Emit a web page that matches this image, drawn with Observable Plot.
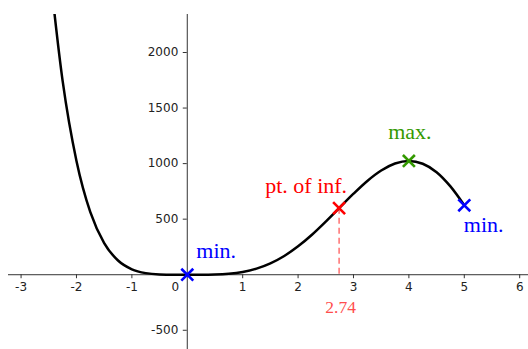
<!DOCTYPE html>
<html>
<head>
<meta charset="utf-8">
<script src="https://cdn.jsdelivr.net/npm/d3@7"></script>
<script src="https://cdn.jsdelivr.net/npm/@observablehq/plot@0.6"></script>
<style>
  html, body { margin: 0; padding: 0; background: #fff; }
  #chart svg { display: block; }
</style>
</head>
<body>
<div id="chart"></div>
<script>
// Sampled points of the curve
const curveX = [-2.5, -2.25, -2, -1.75, -1.5, -1.25, -1, -0.75, -0.5, -0.25, 0,
                0.25, 0.5, 0.75, 1, 1.25, 1.5, 1.75, 2, 2.25, 2.5, 2.75, 3,
                3.25, 3.5, 3.75, 4, 4.25, 4.5, 4.75, 5];
const curveY = [2822, 1744, 1024, 563, 285, 128, 49, 14.4, 2.6, 0.15, 0,
                0.13, 1.9, 8.7, 25, 55, 102.5, 169, 256, 360, 478.5, 604, 729,
                844, 938, 1001, 1024, 999, 923, 795, 625];

// Special points
const pointX = [0, 2.74, 4, 5];
const pointY = [0, 599, 1024, 625];
const pointLabel = ["min.", "pt. of inf.", "max.", "min."];

// Axis ticks
const xTicks = [-3, -2, -1, 1, 2, 3, 4, 5, 6];
const yTicks = [-500, 500, 1000, 1500, 2000];
const inflectionLabel = "2.74";

const serif = "'Liberation Serif', 'Times New Roman', serif";
const sans = "'DejaVu Sans', sans-serif";
const axisColor = "#333";

const points = pointX.map((x, i) => ({x, y: pointY[i], label: pointLabel[i]}));
const pointStyle = [
  {color: "#0000ff", dx: 9, dy: -17, anchor: "start"},
  {color: "#ff0000", dx: 8, dy: -15, anchor: "end"},
  {color: "#339900", dx: 1, dy: -21.5, anchor: "middle"},
  {color: "#0000ff", dx: -0.5, dy: 27, anchor: "start"}
];

const marks = [
  // axis lines through the origin
  Plot.ruleY([0], {stroke: axisColor, strokeWidth: 1}),
  Plot.ruleX([0], {stroke: axisColor, strokeWidth: 1}),
  // tick marks
  Plot.ruleX(xTicks, {x: d => d, y1: 0, y2: 0, insetBottom: -4, stroke: axisColor}),
  Plot.ruleY(yTicks, {y: d => d, x1: 0, x2: 0, insetLeft: -4, stroke: axisColor}),
  // tick labels
  Plot.text(xTicks, {x: d => d, y: 0, text: d => String(d), dy: 12,
    fontFamily: sans, fontSize: 12, fill: "#222"}),
  Plot.text([0], {x: 0, y: 0, text: d => String(d), dx: -12, dy: 12,
    fontFamily: sans, fontSize: 12, fill: "#222"}),
  Plot.text(yTicks, {x: 0, y: d => d, text: d => String(d), dx: -9, textAnchor: "end",
    fontFamily: sans, fontSize: 12, fill: "#222"}),
  // dashed drop line from the point of inflection
  Plot.ruleX([points[1]], {x: "x", y1: "y", y2: 0, stroke: "#ff4d4d",
    strokeWidth: 1.2, strokeDasharray: "6,4"}),
  Plot.text([points[1]], {x: "x", y: 0, text: () => inflectionLabel, dx: 1.5, dy: 38,
    lineAnchor: "bottom", fontFamily: serif, fontSize: 17.5, fill: "#ff4d4d"}),
  // the curve
  Plot.line(curveX, {x: d => d, y: (d, i) => curveY[i], curve: "monotone-x",
    stroke: "black", strokeWidth: 2.5, clip: true})
];

points.forEach((p, i) => {
  const s = pointStyle[i];
  marks.push(
    Plot.dot([p], {x: "x", y: "y", symbol: "times", r: 5.5,
      stroke: s.color, strokeWidth: 2.6}),
    Plot.text([p], {x: "x", y: "y", text: "label", dx: s.dx, dy: s.dy,
      textAnchor: s.anchor, lineAnchor: "bottom",
      fontFamily: serif, fontSize: 22, fill: s.color})
  );
});

const chart = Plot.plot({
  width: 528,
  height: 349,
  marginLeft: 8,
  marginTop: 14,
  marginRight: 0,
  marginBottom: 0,
  style: {background: "#fff"},
  x: {domain: [-3.227, 6.159], axis: null},
  y: {domain: [-673, 2342], axis: null},
  marks
});
document.getElementById("chart").append(chart);
</script>
</body>
</html>
